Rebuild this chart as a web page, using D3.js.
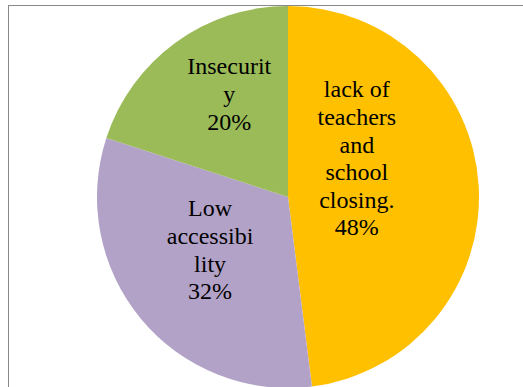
<!DOCTYPE html>
<html>
<head>
<meta charset="utf-8">
<script src="https://cdn.jsdelivr.net/npm/d3@7"></script>
<style>
  html, body { margin: 0; padding: 0; background: #fff; overflow: hidden; }
  svg { display: block; }
</style>
</head>
<body>
<svg id="chart" width="523" height="387"></svg>
<script>
// Causes, share of responses (%)
const categories = ["lack of teachers and school closing.", "Low accessibility", "Insecurity"];
const values = [48, 32, 20];
// Category names as wrapped inside each slice
const labelLines = [
  ["lack of", "teachers", "and", "school", "closing."],
  ["Low", "accessibi", "lity"],
  ["Insecurit", "y"]
];
const colors = ["#FFC000", "#B3A2C7", "#9BBB59"];

const svg = d3.select("#chart");

// Chart frame (continues past the visible area on the right and bottom)
svg.append("rect")
  .attr("x", 8.5).attr("y", 5.5)
  .attr("width", 600).attr("height", 500)
  .attr("fill", "none")
  .attr("stroke", "#898989")
  .attr("stroke-width", 1);

const cx = 288, cy = 197, radius = 191;
const g = svg.append("g").attr("transform", `translate(${cx},${cy})`);

const data = categories.map((c, i) => ({ name: c, value: values[i], lines: labelLines[i], color: colors[i] }));

const pie = d3.pie().sort(null).value(d => d.value).startAngle(0).endAngle(2 * Math.PI);
const arc = d3.arc().innerRadius(0).outerRadius(radius);
const labelArc = d3.arc().innerRadius(radius * 0.55).outerRadius(radius * 0.55);

const arcs = pie(data);

g.selectAll("path.slice")
  .data(arcs)
  .join("path")
  .attr("class", "slice")
  .attr("d", arc)
  .attr("fill", d => d.data.color);

// Label placement nudges relative to the slice centroid
const nudges = [[-36, -32], [3, -14], [3, -18]];
const fontSize = 24, lineHeight = 27.6;

arcs.forEach((d, i) => {
  const [lx, ly] = labelArc.centroid(d);
  const lines = d.data.lines.concat([d3.format(".0%")(d.data.value / 100)]);
  const x = lx + nudges[i][0];
  const yc = ly + nudges[i][1];
  const firstBaseline = yc - (lines.length - 1) * lineHeight / 2 + fontSize * 0.33;
  const t = g.append("text")
    .attr("text-anchor", "middle")
    .attr("font-family", "Liberation Serif")
    .attr("font-size", fontSize)
    .attr("fill", "#000");
  lines.forEach((s, k) => {
    t.append("tspan")
      .attr("x", x)
      .attr("y", firstBaseline + k * lineHeight)
      .text(s);
  });
});
</script>
</body>
</html>
